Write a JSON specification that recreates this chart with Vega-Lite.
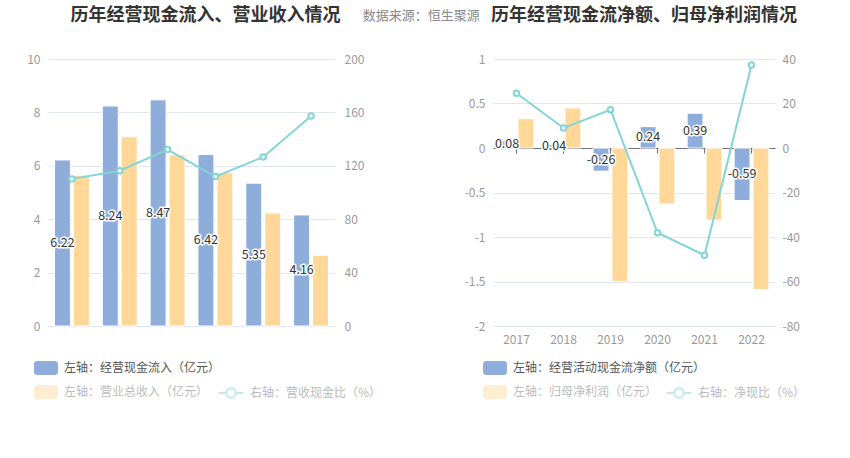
{
  "$schema": "https://vega.github.io/schema/vega-lite/v6.json",
  "background": "white",
  "padding": {"left": 26, "top": 7, "right": 10, "bottom": 10},
  "title": {"text": "数据来源：恒生聚源", "fontSize": 13, "fontWeight": "normal", "color": "#888888", "font": "Noto Sans CJK SC", "anchor": "middle", "frame": "bounds", "offset": -16, "dx": 5},
  "config": {
    "font": "Noto Sans CJK SC",
    "view": {"stroke": null},
    "axis": {"labelColor": "#999999", "labelFontSize": 12, "gridColor": "#E0E6F1", "domainColor": "#6E7079", "tickColor": "#6E7079", "labelFont": "Noto Sans CJK SC"},
    "legend": {"labelFont": "Noto Sans CJK SC", "labelFontSize": 12, "labelLimit": 300}
  },
  "datasets": {
    "leftBars": [
      {"year": "2017", "series": "左轴：经营现金流入（亿元）", "value": 6.22},
      {"year": "2018", "series": "左轴：经营现金流入（亿元）", "value": 8.24},
      {"year": "2019", "series": "左轴：经营现金流入（亿元）", "value": 8.47},
      {"year": "2020", "series": "左轴：经营现金流入（亿元）", "value": 6.42},
      {"year": "2021", "series": "左轴：经营现金流入（亿元）", "value": 5.35},
      {"year": "2022", "series": "左轴：经营现金流入（亿元）", "value": 4.16},
      {"year": "2017", "series": "左轴：营业总收入（亿元）", "value": 5.65},
      {"year": "2018", "series": "左轴：营业总收入（亿元）", "value": 7.09},
      {"year": "2019", "series": "左轴：营业总收入（亿元）", "value": 6.41},
      {"year": "2020", "series": "左轴：营业总收入（亿元）", "value": 5.74},
      {"year": "2021", "series": "左轴：营业总收入（亿元）", "value": 4.23},
      {"year": "2022", "series": "左轴：营业总收入（亿元）", "value": 2.65}
    ],
    "leftRatio": [
      {"year": "2017", "name": "右轴：营收现金比（%）", "ratio": 110.2},
      {"year": "2018", "name": "右轴：营收现金比（%）", "ratio": 116.3},
      {"year": "2019", "name": "右轴：营收现金比（%）", "ratio": 132.2},
      {"year": "2020", "name": "右轴：营收现金比（%）", "ratio": 111.9},
      {"year": "2021", "name": "右轴：营收现金比（%）", "ratio": 126.6},
      {"year": "2022", "name": "右轴：营收现金比（%）", "ratio": 157.3}
    ],
    "rightBars": [
      {"year": "2017", "series": "左轴：经营活动现金流净额（亿元）", "value": 0.08},
      {"year": "2018", "series": "左轴：经营活动现金流净额（亿元）", "value": 0.04},
      {"year": "2019", "series": "左轴：经营活动现金流净额（亿元）", "value": -0.26},
      {"year": "2020", "series": "左轴：经营活动现金流净额（亿元）", "value": 0.24},
      {"year": "2021", "series": "左轴：经营活动现金流净额（亿元）", "value": 0.39},
      {"year": "2022", "series": "左轴：经营活动现金流净额（亿元）", "value": -0.59},
      {"year": "2017", "series": "左轴：归母净利润（亿元）", "value": 0.33},
      {"year": "2018", "series": "左轴：归母净利润（亿元）", "value": 0.45},
      {"year": "2019", "series": "左轴：归母净利润（亿元）", "value": -1.5},
      {"year": "2020", "series": "左轴：归母净利润（亿元）", "value": -0.63},
      {"year": "2021", "series": "左轴：归母净利润（亿元）", "value": -0.81},
      {"year": "2022", "series": "左轴：归母净利润（亿元）", "value": -1.59}
    ],
    "rightRatio": [
      {"year": "2017", "name": "右轴：净现比（%）", "ratio": 24.6},
      {"year": "2018", "name": "右轴：净现比（%）", "ratio": 9.0},
      {"year": "2019", "name": "右轴：净现比（%）", "ratio": 17.2},
      {"year": "2020", "name": "右轴：净现比（%）", "ratio": -38.1},
      {"year": "2021", "name": "右轴：净现比（%）", "ratio": -48.2},
      {"year": "2022", "name": "右轴：净现比（%）", "ratio": 37.3}
    ]
  },
  "bounds": "flush",
  "spacing": 158,
  "resolve": {"scale": {"x": "independent", "y": "independent", "xOffset": "independent", "color": "independent", "stroke": "independent"}},
  "hconcat": [
    {
      "width": 287,
      "height": 267,
      "title": {"text": "历年经营现金流入、营业收入情况", "fontSize": 18, "fontWeight": "bold", "color": "#333333", "anchor": "middle", "frame": "group", "dx": 14, "offset": 28},
      "resolve": {"scale": {"y": "independent"}},
      "layer": [
        {
          "data": {"name": "leftBars"},
          "mark": {"type": "bar", "stroke": "white", "strokeWidth": 1},
          "encoding": {
            "x": {"field": "year", "type": "nominal", "scale": {"paddingInner": 0.27, "paddingOuter": 0.135}, "axis": {"title": null, "labelAngle": 0, "grid": false, "domain": true, "ticks": true, "tickSize": 5, "labelPadding": 3}},
            "xOffset": {"field": "series", "type": "nominal", "scale": {"domain": ["左轴：经营现金流入（亿元）", "左轴：营业总收入（亿元）"], "paddingInner": 0.158, "paddingOuter": 0}},
            "y": {"field": "value", "type": "quantitative", "scale": {"domain": [0, 10]}, "axis": {"title": null, "values": [0, 2, 4, 6, 8, 10], "domain": false, "ticks": false, "labelPadding": 8, "grid": true}},
            "color": {"field": "series", "type": "nominal", "scale": {"domain": ["左轴：经营现金流入（亿元）", "左轴：营业总收入（亿元）"], "range": ["#8EADDB", "#FFD899"]},
              "legend": {"title": null, "orient": "none", "legendX": -14, "legendY": 297, "direction": "vertical", "symbolType": "M-0.75,-0.583H0.75A0.25,0.25 0 0 1 1,-0.333V0.333A0.25,0.25 0 0 1 0.75,0.583H-0.75A0.25,0.25 0 0 1 -1,0.333V-0.333A0.25,0.25 0 0 1 -0.75,-0.583Z", "symbolSize": 576, "symbolStrokeWidth": 0, "labelOffset": 6, "rowPadding": 5,
                "labelColor": {"expr": "datum.label === '左轴：经营现金流入（亿元）' ? '#555555' : '#BBBBBB'"},
                "symbolOpacity": {"expr": "datum.label === '左轴：经营现金流入（亿元）' ? 1 : 0.45"}}}
          }
        },
        {
          "data": {"name": "leftRatio"},
          "mark": {"type": "line", "strokeWidth": 2, "point": {"filled": false, "fill": "white", "size": 30, "strokeWidth": 2}},
          "encoding": {
            "x": {"field": "year", "type": "nominal", "axis": null},
            "y": {"field": "ratio", "type": "quantitative", "scale": {"domain": [0, 200]}, "axis": {"orient": "right", "title": null, "values": [0, 40, 80, 120, 160, 200], "grid": false, "domain": false, "ticks": false, "labelPadding": 9}},
            "stroke": {"field": "name", "type": "nominal", "scale": {"range": ["#83D4D6"]},
              "legend": {"title": null, "orient": "none", "legendX": 170, "legendY": 321, "symbolType": "M-1,0H-0.4M0.4,0A0.4,0.4 0 1 1 -0.4,0A0.4,0.4 0 1 1 0.4,0M0.4,0H1", "symbolSize": 576, "symbolStrokeWidth": 2, "labelOffset": 6, "labelColor": "#BBBBBB",
                "encode": {"symbols": {"update": {"fill": {"value": "white"}, "opacity": {"value": 0.5}}}}}}
          }
        },
        {
          "data": {"name": "leftBars"},
          "transform": [{"filter": "datum.series === '左轴：经营现金流入（亿元）'"}],
          "mark": {"type": "text", "fontSize": 12.5, "fill": "white", "stroke": "white", "strokeWidth": 3, "strokeJoin": "round", "baseline": "middle"},
          "encoding": {
            "x": {"field": "year", "type": "nominal", "axis": null},
            "xOffset": {"field": "series", "type": "nominal"},
            "y": {"field": "value", "type": "quantitative", "scale": {"domain": [0, 20]}, "axis": null},
            "text": {"field": "value", "type": "nominal"}
          }
        },
        {
          "data": {"name": "leftBars"},
          "transform": [{"filter": "datum.series === '左轴：经营现金流入（亿元）'"}],
          "mark": {"type": "text", "fontSize": 12.5, "fill": "#333333", "baseline": "middle"},
          "encoding": {
            "x": {"field": "year", "type": "nominal", "axis": null},
            "xOffset": {"field": "series", "type": "nominal"},
            "y": {"field": "value", "type": "quantitative", "scale": {"domain": [0, 20]}, "axis": null},
            "text": {"field": "value", "type": "nominal"}
          }
        }
      ]
    },
    {
      "width": 282,
      "height": 267,
      "title": {"text": "历年经营现金流净额、归母净利润情况", "fontSize": 18, "fontWeight": "bold", "color": "#333333", "anchor": "middle", "frame": "group", "dx": 10, "offset": 28},
      "resolve": {"scale": {"y": "independent"}, "axis": {"x": "independent"}},
      "layer": [
        {
          "data": {"name": "rightBars"},
          "mark": {"type": "bar", "stroke": "white", "strokeWidth": 1},
          "encoding": {
            "x": {"field": "year", "type": "nominal", "scale": {"paddingInner": 0.26, "paddingOuter": 0.13}, "axis": {"title": null, "labelAngle": 0, "grid": false, "domain": false, "ticks": false, "labelPadding": 8}},
            "xOffset": {"field": "series", "type": "nominal", "scale": {"domain": ["左轴：经营活动现金流净额（亿元）", "左轴：归母净利润（亿元）"], "paddingInner": 0.158, "paddingOuter": 0}},
            "y": {"field": "value", "type": "quantitative", "scale": {"domain": [-2, 1]}, "axis": {"title": null, "values": [-2, -1.5, -1, -0.5, 0, 0.5, 1], "labelExpr": "'' + datum.value", "domain": false, "ticks": false, "labelPadding": 8, "grid": true}},
            "color": {"field": "series", "type": "nominal", "scale": {"domain": ["左轴：经营活动现金流净额（亿元）", "左轴：归母净利润（亿元）"], "range": ["#8EADDB", "#FFD899"]},
              "legend": {"title": null, "orient": "none", "legendX": -10, "legendY": 297, "direction": "vertical", "symbolType": "M-0.75,-0.583H0.75A0.25,0.25 0 0 1 1,-0.333V0.333A0.25,0.25 0 0 1 0.75,0.583H-0.75A0.25,0.25 0 0 1 -1,0.333V-0.333A0.25,0.25 0 0 1 -0.75,-0.583Z", "symbolSize": 576, "symbolStrokeWidth": 0, "labelOffset": 6, "rowPadding": 5,
                "labelColor": {"expr": "datum.label === '左轴：经营活动现金流净额（亿元）' ? '#555555' : '#BBBBBB'"},
                "symbolOpacity": {"expr": "datum.label === '左轴：经营活动现金流净额（亿元）' ? 1 : 0.45"}}}
          }
        },
        {
          "data": {"name": "rightRatio"},
          "mark": {"type": "line", "strokeWidth": 2, "point": {"filled": false, "fill": "white", "size": 30, "strokeWidth": 2}},
          "encoding": {
            "x": {"field": "year", "type": "nominal", "axis": {"orient": "top", "offset": -89, "title": null, "labels": false, "grid": false, "domain": true, "ticks": true, "tickSize": -5}},
            "y": {"field": "ratio", "type": "quantitative", "scale": {"domain": [-80, 40]}, "axis": {"orient": "right", "title": null, "values": [-80, -60, -40, -20, 0, 20, 40], "labelExpr": "'' + datum.value", "grid": false, "domain": false, "ticks": false, "labelPadding": 7}},
            "stroke": {"field": "name", "type": "nominal", "scale": {"range": ["#83D4D6"]},
              "legend": {"title": null, "orient": "none", "legendX": 173, "legendY": 321, "symbolType": "M-1,0H-0.4M0.4,0A0.4,0.4 0 1 1 -0.4,0A0.4,0.4 0 1 1 0.4,0M0.4,0H1", "symbolSize": 576, "symbolStrokeWidth": 2, "labelOffset": 6, "labelColor": "#BBBBBB",
                "encode": {"symbols": {"update": {"fill": {"value": "white"}, "opacity": {"value": 0.5}}}}}}
          }
        },
        {
          "data": {"name": "rightBars"},
          "transform": [{"filter": "datum.series === '左轴：经营活动现金流净额（亿元）'"}],
          "mark": {"type": "text", "fontSize": 12.5, "fill": "white", "stroke": "white", "strokeWidth": 3, "strokeJoin": "round", "baseline": "middle"},
          "encoding": {
            "x": {"field": "year", "type": "nominal", "axis": null},
            "xOffset": {"field": "series", "type": "nominal"},
            "y": {"field": "value", "type": "quantitative", "scale": {"domain": [-4, 2]}, "axis": null},
            "text": {"field": "value", "type": "nominal"}
          }
        },
        {
          "data": {"name": "rightBars"},
          "transform": [{"filter": "datum.series === '左轴：经营活动现金流净额（亿元）'"}],
          "mark": {"type": "text", "fontSize": 12.5, "fill": "#333333", "baseline": "middle"},
          "encoding": {
            "x": {"field": "year", "type": "nominal", "axis": null},
            "xOffset": {"field": "series", "type": "nominal"},
            "y": {"field": "value", "type": "quantitative", "scale": {"domain": [-4, 2]}, "axis": null},
            "text": {"field": "value", "type": "nominal"}
          }
        }
      ]
    }
  ]
}
